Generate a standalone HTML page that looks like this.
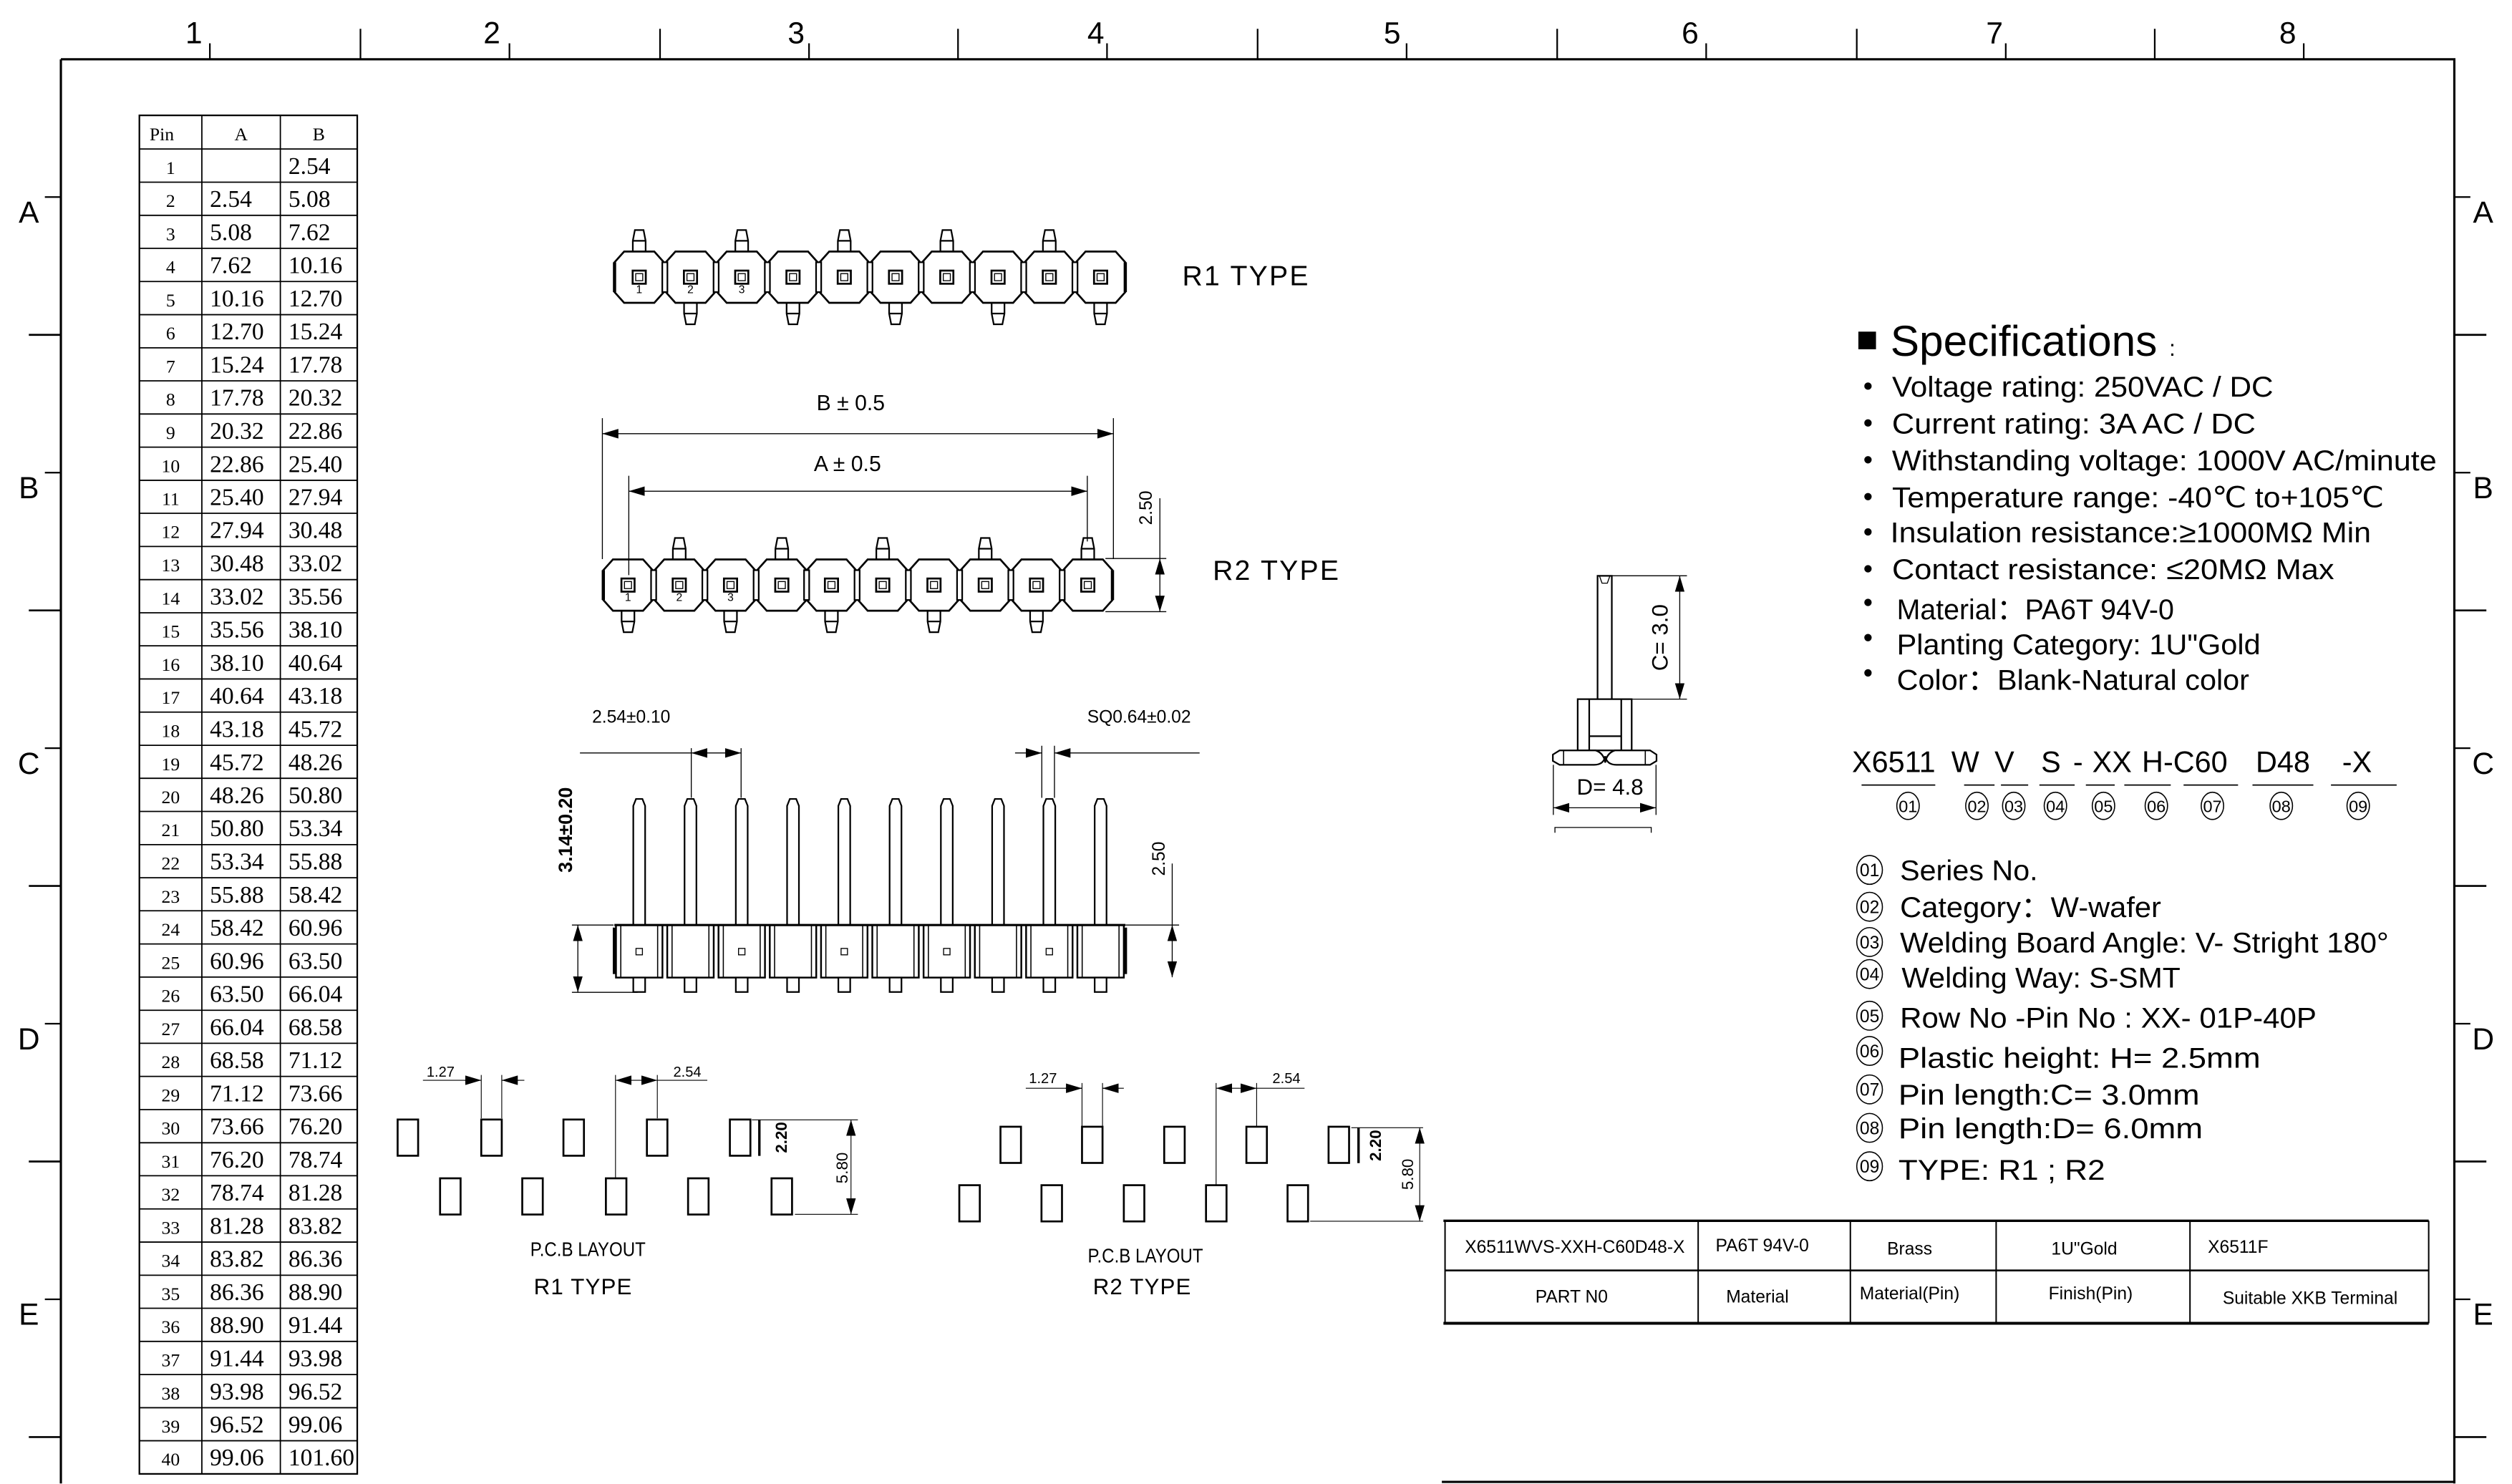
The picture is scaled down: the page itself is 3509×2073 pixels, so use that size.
<!DOCTYPE html>
<html><head><meta charset="utf-8"><style>
html,body{margin:0;padding:0;background:#fff;}
svg{display:block;}
text{font-family:"Liberation Sans",sans-serif;fill:#000;}
.sf{font-family:"Liberation Serif",serif;}
.tb text{font-family:"Liberation Serif",serif;font-size:15px;}
.tb .p{font-size:11.5px;text-anchor:middle;}
.ln{stroke:#000;fill:none;}
.m{text-anchor:middle;}
</style></head><body>
<svg width="3509" height="2073" viewBox="0 0 1568 926.3" xmlns="http://www.w3.org/2000/svg">
<defs>
<marker id="ar" viewBox="0 0 10 6" refX="10" refY="3" markerWidth="10" markerHeight="6" markerUnits="userSpaceOnUse" orient="auto-start-reverse"><path d="M0,0L10,3L0,6z" fill="#000"/></marker>
<g id="oct">
<path d="M-9.4,-16 H9.4 L15.4,-9.3 V9.3 L9.4,16 H-9.4 L-15.4,9.3 V-9.3 Z" fill="#fff" stroke="#000" stroke-width="1.2"/>
<rect x="-4.1" y="-4.1" width="8.2" height="8.2" fill="none" stroke="#000" stroke-width="1.2"/>
<rect x="-2.2" y="-2.2" width="4.4" height="4.4" fill="none" stroke="#000" stroke-width="0.6"/>
</g>
<path id="tu" d="M-4,-16 V-22.7 L-2.7,-29.4 H2.7 L4,-22.7 V-16 M-4,-22.7 H4" fill="#fff" stroke="#000" stroke-width="1"/>
<path id="td" d="M-4,16 V22.7 L-2.7,29.4 H2.7 L4,22.7 V16 M-4,22.7 H4" fill="#fff" stroke="#000" stroke-width="1"/>
<g id="lnk"><rect x="-1.6" y="-9.3" width="3.2" height="18.6" fill="#fff" stroke="#000" stroke-width="1"/></g>
<g id="sp">
<path d="M-3.7,577.4 V503 L-2,498.7 H2 L3.7,503 V577.4" fill="#fff" stroke="#000" stroke-width="1"/>
<rect x="-14.5" y="577.4" width="29" height="32.8" fill="#fff" stroke="#000" stroke-width="1.1"/>
<path d="M-11.5,577.4 V610.2 M11.5,577.4 V610.2" stroke="#000" stroke-width="0.7"/>
<rect x="-3.7" y="610.2" width="7.4" height="9" fill="#fff" stroke="#000" stroke-width="1"/>
</g>
<rect id="pad" x="0" y="0" width="12.8" height="22.6" fill="#fff" stroke="#000" stroke-width="1.2"/>
</defs>

<!-- Frame -->
<g stroke="#000" fill="none">
<path d="M38,37 H1532 V926 M38,37 V926" stroke-width="1.4"/>
<path d="M900,925 H1532" stroke-width="1.4"/>
<path d="M225,18 V37 M412,18 V37 M598,18 V37 M785,18 V37 M972,18 V37 M1159,18 V37 M1345,18 V37" stroke-width="1"/>
<path d="M131,27 V37 M318,27 V37 M505,27 V37 M691,27 V37 M878,27 V37 M1065,27 V37 M1252,27 V37 M1438,27 V37" stroke-width="1"/>
<path d="M18,209 H38 M18,381 H38 M18,553 H38 M18,725 H38 M18,897 H38 M1532,209 H1552 M1532,381 H1552 M1532,553 H1552 M1532,725 H1552 M1532,897 H1552" stroke-width="1.2"/>
<path d="M28,123 H38 M28,295 H38 M28,467 H38 M28,639 H38 M28,811 H38 M1532,123 H1542 M1532,295 H1542 M1532,467 H1542 M1532,639 H1542 M1532,811 H1542" stroke-width="1"/>
</g>
<g font-size="19">
<text x="121" y="27" class="m">1</text><text x="307" y="27" class="m">2</text><text x="497" y="27" class="m">3</text><text x="684" y="27" class="m">4</text><text x="869" y="27" class="m">5</text><text x="1055" y="27" class="m">6</text><text x="1245" y="27" class="m">7</text><text x="1428" y="27" class="m">8</text>
<text x="18" y="139" class="m">A</text><text x="18" y="311" class="m">B</text><text x="18" y="483" class="m">C</text><text x="18" y="655" class="m">D</text><text x="18" y="827" class="m">E</text>
<text x="1550" y="139" class="m">A</text><text x="1550" y="311" class="m">B</text><text x="1550" y="483" class="m">C</text><text x="1550" y="655" class="m">D</text><text x="1550" y="827" class="m">E</text>
</g>

<!-- Pin table -->
<g class="tb">
<rect x="87" y="72" width="136" height="848" fill="none" stroke="#000" stroke-width="1"/>
<path class="ln" stroke-width="0.8" d="M126,72 V920 M175,72 V920 M87,93 H223 M87,113.7 H223 M87,134.4 H223 M87,155 H223 M87,175.7 H223 M87,196.4 H223 M87,217.1 H223 M87,237.7 H223 M87,258.4 H223 M87,279.1 H223 M87,299.8 H223 M87,320.4 H223 M87,341.1 H223 M87,361.8 H223 M87,382.5 H223 M87,403.1 H223 M87,423.8 H223 M87,444.5 H223 M87,465.2 H223 M87,485.8 H223 M87,506.5 H223 M87,527.2 H223 M87,547.9 H223 M87,568.5 H223 M87,589.2 H223 M87,609.9 H223 M87,630.6 H223 M87,651.2 H223 M87,671.9 H223 M87,692.6 H223 M87,713.3 H223 M87,733.9 H223 M87,754.6 H223 M87,775.3 H223 M87,796 H223 M87,816.6 H223 M87,837.3 H223 M87,858 H223 M87,878.7 H223 M87,899.3 H223"/>
<text x="101" y="87.5" class="p">Pin</text><text x="150.5" y="87.5" class="p">A</text><text x="199" y="87.5" class="p">B</text>
<g transform="translate(0,108.5)"><text x="106.5" class="p">1</text><text x="180">2.54</text></g>
<g transform="translate(0,129.2)"><text x="106.5" class="p">2</text><text x="131">2.54</text><text x="180">5.08</text></g>
<g transform="translate(0,149.9)"><text x="106.5" class="p">3</text><text x="131">5.08</text><text x="180">7.62</text></g>
<g transform="translate(0,170.5)"><text x="106.5" class="p">4</text><text x="131">7.62</text><text x="180">10.16</text></g>
<g transform="translate(0,191.2)"><text x="106.5" class="p">5</text><text x="131">10.16</text><text x="180">12.70</text></g>
<g transform="translate(0,211.9)"><text x="106.5" class="p">6</text><text x="131">12.70</text><text x="180">15.24</text></g>
<g transform="translate(0,232.6)"><text x="106.5" class="p">7</text><text x="131">15.24</text><text x="180">17.78</text></g>
<g transform="translate(0,253.2)"><text x="106.5" class="p">8</text><text x="131">17.78</text><text x="180">20.32</text></g>
<g transform="translate(0,273.9)"><text x="106.5" class="p">9</text><text x="131">20.32</text><text x="180">22.86</text></g>
<g transform="translate(0,294.6)"><text x="106.5" class="p">10</text><text x="131">22.86</text><text x="180">25.40</text></g>
<g transform="translate(0,315.3)"><text x="106.5" class="p">11</text><text x="131">25.40</text><text x="180">27.94</text></g>
<g transform="translate(0,335.9)"><text x="106.5" class="p">12</text><text x="131">27.94</text><text x="180">30.48</text></g>
<g transform="translate(0,356.6)"><text x="106.5" class="p">13</text><text x="131">30.48</text><text x="180">33.02</text></g>
<g transform="translate(0,377.3)"><text x="106.5" class="p">14</text><text x="131">33.02</text><text x="180">35.56</text></g>
<g transform="translate(0,398)"><text x="106.5" class="p">15</text><text x="131">35.56</text><text x="180">38.10</text></g>
<g transform="translate(0,418.6)"><text x="106.5" class="p">16</text><text x="131">38.10</text><text x="180">40.64</text></g>
<g transform="translate(0,439.3)"><text x="106.5" class="p">17</text><text x="131">40.64</text><text x="180">43.18</text></g>
<g transform="translate(0,460)"><text x="106.5" class="p">18</text><text x="131">43.18</text><text x="180">45.72</text></g>
<g transform="translate(0,480.7)"><text x="106.5" class="p">19</text><text x="131">45.72</text><text x="180">48.26</text></g>
<g transform="translate(0,501.3)"><text x="106.5" class="p">20</text><text x="131">48.26</text><text x="180">50.80</text></g>
<g transform="translate(0,522)"><text x="106.5" class="p">21</text><text x="131">50.80</text><text x="180">53.34</text></g>
<g transform="translate(0,542.7)"><text x="106.5" class="p">22</text><text x="131">53.34</text><text x="180">55.88</text></g>
<g transform="translate(0,563.4)"><text x="106.5" class="p">23</text><text x="131">55.88</text><text x="180">58.42</text></g>
<g transform="translate(0,584)"><text x="106.5" class="p">24</text><text x="131">58.42</text><text x="180">60.96</text></g>
<g transform="translate(0,604.7)"><text x="106.5" class="p">25</text><text x="131">60.96</text><text x="180">63.50</text></g>
<g transform="translate(0,625.4)"><text x="106.5" class="p">26</text><text x="131">63.50</text><text x="180">66.04</text></g>
<g transform="translate(0,646.1)"><text x="106.5" class="p">27</text><text x="131">66.04</text><text x="180">68.58</text></g>
<g transform="translate(0,666.7)"><text x="106.5" class="p">28</text><text x="131">68.58</text><text x="180">71.12</text></g>
<g transform="translate(0,687.4)"><text x="106.5" class="p">29</text><text x="131">71.12</text><text x="180">73.66</text></g>
<g transform="translate(0,708.1)"><text x="106.5" class="p">30</text><text x="131">73.66</text><text x="180">76.20</text></g>
<g transform="translate(0,728.8)"><text x="106.5" class="p">31</text><text x="131">76.20</text><text x="180">78.74</text></g>
<g transform="translate(0,749.4)"><text x="106.5" class="p">32</text><text x="131">78.74</text><text x="180">81.28</text></g>
<g transform="translate(0,770.1)"><text x="106.5" class="p">33</text><text x="131">81.28</text><text x="180">83.82</text></g>
<g transform="translate(0,790.8)"><text x="106.5" class="p">34</text><text x="131">83.82</text><text x="180">86.36</text></g>
<g transform="translate(0,811.5)"><text x="106.5" class="p">35</text><text x="131">86.36</text><text x="180">88.90</text></g>
<g transform="translate(0,832.1)"><text x="106.5" class="p">36</text><text x="131">88.90</text><text x="180">91.44</text></g>
<g transform="translate(0,852.8)"><text x="106.5" class="p">37</text><text x="131">91.44</text><text x="180">93.98</text></g>
<g transform="translate(0,873.5)"><text x="106.5" class="p">38</text><text x="131">93.98</text><text x="180">96.52</text></g>
<g transform="translate(0,894.2)"><text x="106.5" class="p">39</text><text x="131">96.52</text><text x="180">99.06</text></g>
<g transform="translate(0,914.8)"><text x="106.5" class="p">40</text><text x="131">99.06</text><text x="180">101.60</text></g>
</g>

<!-- R1 top view -->
<g transform="translate(0,173)">
<use href="#tu" x="399"/><use href="#tu" x="463"/><use href="#tu" x="527"/><use href="#tu" x="591"/><use href="#tu" x="655"/>
<use href="#td" x="431"/><use href="#td" x="495"/><use href="#td" x="559"/><use href="#td" x="623"/><use href="#td" x="687"/>
<use href="#oct" x="399"/><use href="#oct" x="431"/><use href="#oct" x="463"/><use href="#oct" x="495"/><use href="#oct" x="527"/><use href="#oct" x="559"/><use href="#oct" x="591"/><use href="#oct" x="623"/><use href="#oct" x="655"/><use href="#oct" x="687"/>
<use href="#lnk" x="415"/><use href="#lnk" x="447"/><use href="#lnk" x="479"/><use href="#lnk" x="511"/><use href="#lnk" x="543"/><use href="#lnk" x="575"/><use href="#lnk" x="607"/><use href="#lnk" x="639"/><use href="#lnk" x="671"/>
<path d="M383.6,-9.3 V9.3 M702.4,-9.3 V9.3" stroke="#000" stroke-width="2"/>
<g font-size="7" class="m"><text x="399" y="10">1</text><text x="431" y="10">2</text><text x="463" y="10">3</text></g>
</g>
<text x="738" y="178" font-size="17.5" letter-spacing="1">R1  TYPE</text>

<!-- R2 top view -->
<g transform="translate(0,365.2)">
<use href="#tu" x="424"/><use href="#tu" x="488"/><use href="#tu" x="551"/><use href="#tu" x="615"/><use href="#tu" x="679"/>
<use href="#td" x="392"/><use href="#td" x="456"/><use href="#td" x="519"/><use href="#td" x="583"/><use href="#td" x="647"/>
<use href="#oct" x="392"/><use href="#oct" x="424"/><use href="#oct" x="456"/><use href="#oct" x="488"/><use href="#oct" x="519"/><use href="#oct" x="551"/><use href="#oct" x="583"/><use href="#oct" x="615"/><use href="#oct" x="647"/><use href="#oct" x="679"/>
<use href="#lnk" x="408"/><use href="#lnk" x="440"/><use href="#lnk" x="472"/><use href="#lnk" x="503.5"/><use href="#lnk" x="535"/><use href="#lnk" x="567"/><use href="#lnk" x="599"/><use href="#lnk" x="631"/><use href="#lnk" x="663"/>
<path d="M376.6,-9.3 V9.3 M694.4,-9.3 V9.3" stroke="#000" stroke-width="2"/>
<g font-size="7" class="m"><text x="392" y="10">1</text><text x="424" y="10">2</text><text x="456" y="10">3</text></g>
</g>
<text x="757" y="362" font-size="17.5" letter-spacing="1">R2  TYPE</text>
<g stroke="#000" stroke-width="0.6" fill="none">
<path d="M376,261 V349 M695,261 V349 M392.5,297 V359 M678.7,297 V338"/>
<path d="M376,270.7 H695" marker-start="url(#ar)" marker-end="url(#ar)"/>
<path d="M392.5,306.6 H678.7" marker-start="url(#ar)" marker-end="url(#ar)"/>
<path d="M690,348.6 H728 M690,381.8 H728 M724,311 V348.6"/>
<path d="M724,348.6 V381.8" marker-start="url(#ar)" marker-end="url(#ar)"/>
</g>
<text x="531" y="256" font-size="13.5" class="m">B ± 0.5</text>
<text x="529" y="294" font-size="13.5" class="m">A ± 0.5</text>
<text transform="translate(719,317) rotate(-90)" font-size="11" class="m">2.50</text>

<!-- Side view -->
<use href="#sp" x="399"/><use href="#sp" x="431"/><use href="#sp" x="463"/><use href="#sp" x="495"/><use href="#sp" x="527"/><use href="#sp" x="559"/><use href="#sp" x="591"/><use href="#sp" x="623"/><use href="#sp" x="655"/><use href="#sp" x="687"/>
<path d="M383.5,577.4 H702.5" stroke="#000" stroke-width="1.4"/>
<path d="M383.5,579 V608 M702.5,579 V608" stroke="#000" stroke-width="2"/>
<g fill="none" stroke="#000" stroke-width="0.6">
<rect x="397" y="592" width="4" height="4"/><rect x="461" y="592" width="4" height="4"/><rect x="525" y="592" width="4" height="4"/><rect x="589" y="592" width="4" height="4"/><rect x="653" y="592" width="4" height="4"/>
<path d="M357,577.4 H383 M357,619.4 H398"/>
<path d="M360.7,577.4 V619.4" marker-start="url(#ar)" marker-end="url(#ar)"/>
<path d="M702.6,577.4 H736 M731.7,539 V577.4"/>
<path d="M731.7,577.4 V610" marker-start="url(#ar)" marker-end="url(#ar)"/>
<path d="M431.5,467 V498 M462.6,467 V498 M362,470 H431.5"/>
<path d="M431.5,470 H462.6" marker-start="url(#ar)" marker-end="url(#ar)"/>
<path d="M650.3,465.5 V498 M658.2,465.5 V498"/>
<path d="M633.6,470 H650.3" marker-end="url(#ar)"/>
<path d="M748.8,470 H658.2" marker-end="url(#ar)"/>
</g>
<text transform="translate(357,518) rotate(-90)" font-size="12" font-weight="bold" class="m">3.14±0.20</text>
<text transform="translate(727,536) rotate(-90)" font-size="11" class="m">2.50</text>
<text x="394" y="451" font-size="11" class="m">2.54±0.10</text>
<text x="711" y="451" font-size="11" class="m">SQ0.64±0.02</text>

<!-- Single pin side -->
<g stroke="#000" fill="#fff" stroke-width="1">
<path d="M997.2,436.4 V359.4 H1006.1 V436.4"/>
<path d="M998.5,359.8 L1000,364 H1003.3 L1004.8,359.8" fill="none" stroke-width="0.6"/>
<rect x="984.8" y="436.4" width="33.7" height="32"/>
<path d="M992,436.4 V468.4 M1012,436.4 V468.4 M992,459.5 H1012" fill="none"/>
<path d="M984.8,468.4 H996 Q1001,470 1002,476 Q1003,470 1008,468.4 H1018.5 H1030 L1034,471 V475 L1030,477.4 H1009 Q1003,477.4 1002,472 Q1001,477.4 995,477.4 H973.5 L969.3,475 V471 L973.5,468.4 Z"/>
<path d="M976,468.4 V477.4 M1027,468.4 V477.4" fill="none" stroke-width="0.7"/>
</g>
<g stroke="#000" stroke-width="0.6" fill="none">
<path d="M1006,359.4 H1053 M1018.5,436.4 H1053"/>
<path d="M1048.5,359.4 V436.4" marker-start="url(#ar)" marker-end="url(#ar)"/>
<path d="M969.6,477.4 V508.7 M1033.7,477.4 V508.7"/>
<path d="M969.6,504.2 H1033.7" marker-start="url(#ar)" marker-end="url(#ar)"/>
<path d="M970.6,519.8 V516.5 H1030.7 V519.8"/>
</g>
<text transform="translate(1041,398) rotate(-90)" font-size="14" class="m">C= 3.0</text>
<text x="1005" y="496" font-size="14" class="m">D= 4.8</text>

<!-- Specifications -->
<rect x="1160" y="207" width="11" height="11" fill="#000"/>
<text x="1180" y="222" font-size="27">Specifications</text><text x="1354" y="222" font-size="14">:</text>
<g fill="#000"><circle cx="1166" cy="241" r="2.3"/><circle cx="1166" cy="264" r="2.3"/><circle cx="1166" cy="287" r="2.3"/><circle cx="1166" cy="310" r="2.3"/><circle cx="1166" cy="332" r="2.3"/><circle cx="1166" cy="355" r="2.3"/><circle cx="1166" cy="376" r="2.3"/><circle cx="1166" cy="398" r="2.3"/><circle cx="1166" cy="420" r="2.3"/></g>
<g font-size="18">
<text x="1181" y="247.5" textLength="238" lengthAdjust="spacingAndGlyphs">Voltage rating: 250VAC / DC</text>
<text x="1181" y="270.5" textLength="227" lengthAdjust="spacingAndGlyphs">Current rating: 3A  AC / DC</text>
<text x="1181" y="293.5" textLength="340" lengthAdjust="spacingAndGlyphs">Withstanding voltage: 1000V AC/minute</text>
<text x="1181" y="316.5" textLength="307" lengthAdjust="spacingAndGlyphs">Temperature range: -40℃ to+105℃</text>
<text x="1180" y="338.5" textLength="300" lengthAdjust="spacingAndGlyphs">Insulation resistance:≥1000MΩ Min</text>
<text x="1181" y="361.5" textLength="276" lengthAdjust="spacingAndGlyphs">Contact resistance: ≤20MΩ Max</text>
<text x="1184" y="386.5" textLength="173" lengthAdjust="spacingAndGlyphs">Material：PA6T 94V-0</text>
<text x="1184" y="408.5" textLength="227" lengthAdjust="spacingAndGlyphs">Planting Category: 1U"Gold</text>
<text x="1184" y="430.5" textLength="220" lengthAdjust="spacingAndGlyphs">Color：Blank-Natural color</text>
</g>

<!-- Part code -->
<g font-size="18.5">
<text x="1156" y="482">X6511</text><text x="1218" y="482">W</text><text x="1245" y="482">V</text><text x="1274" y="482">S</text><text x="1294" y="482">-</text><text x="1306" y="482">XX</text><text x="1337" y="482">H-C60</text><text x="1408" y="482">D48</text><text x="1462" y="482">-X</text>
</g>
<path d="M1162,490 H1208 M1226,490 H1245 M1249,490 H1266 M1273,490 H1295 M1302,490 H1320 M1326,490 H1355 M1363,490 H1397 M1406,490 H1444 M1455,490 H1496" stroke="#000" stroke-width="0.8"/>
<g fill="none" stroke="#000" stroke-width="0.7">
<ellipse cx="1191" cy="503" rx="7" ry="8.5"/><ellipse cx="1234" cy="503" rx="7" ry="8.5"/><ellipse cx="1257" cy="503" rx="7" ry="8.5"/><ellipse cx="1283" cy="503" rx="7" ry="8.5"/><ellipse cx="1313" cy="503" rx="7" ry="8.5"/><ellipse cx="1346" cy="503" rx="7" ry="8.5"/><ellipse cx="1381" cy="503" rx="7" ry="8.5"/><ellipse cx="1424" cy="503" rx="7" ry="8.5"/><ellipse cx="1472" cy="503" rx="7" ry="8.5"/>
</g>
<g font-size="10.5" class="m">
<text x="1191" y="507">01</text><text x="1234" y="507">02</text><text x="1257" y="507">03</text><text x="1283" y="507">04</text><text x="1313" y="507">05</text><text x="1346" y="507">06</text><text x="1381" y="507">07</text><text x="1424" y="507">08</text><text x="1472" y="507">09</text>
</g>

<!-- Legend list -->
<g fill="none" stroke="#000" stroke-width="0.7">
<ellipse cx="1167" cy="543" rx="8" ry="9"/><ellipse cx="1167" cy="566" rx="8" ry="9"/><ellipse cx="1167" cy="588" rx="8" ry="9"/><ellipse cx="1167" cy="608" rx="8" ry="9"/><ellipse cx="1167" cy="634" rx="8" ry="9"/><ellipse cx="1167" cy="656" rx="8" ry="9"/><ellipse cx="1167" cy="680" rx="8" ry="9"/><ellipse cx="1167" cy="704" rx="8" ry="9"/><ellipse cx="1167" cy="728" rx="8" ry="9"/>
</g>
<g font-size="11" class="m">
<text x="1167" y="547">01</text><text x="1167" y="570">02</text><text x="1167" y="592">03</text><text x="1167" y="612">04</text><text x="1167" y="638">05</text><text x="1167" y="660">06</text><text x="1167" y="684">07</text><text x="1167" y="708">08</text><text x="1167" y="732">09</text>
</g>
<g font-size="18">
<text x="1186" y="549.5" textLength="86" lengthAdjust="spacingAndGlyphs">Series No.</text>
<text x="1186" y="572.5" textLength="163" lengthAdjust="spacingAndGlyphs">Category：W-wafer</text>
<text x="1186" y="594.5" textLength="305" lengthAdjust="spacingAndGlyphs">Welding Board Angle: V- Stright 180°</text>
<text x="1187" y="616.5" textLength="174" lengthAdjust="spacingAndGlyphs">Welding Way:   S-SMT</text>
<text x="1186" y="641.5" textLength="260" lengthAdjust="spacingAndGlyphs">Row No -Pin No : XX- 01P-40P</text>
<text x="1185" y="666.5" textLength="226" lengthAdjust="spacingAndGlyphs">Plastic height: H= 2.5mm</text>
<text x="1185" y="689.5" textLength="188" lengthAdjust="spacingAndGlyphs">Pin length:C= 3.0mm</text>
<text x="1185" y="710.5" textLength="190" lengthAdjust="spacingAndGlyphs">Pin length:D= 6.0mm</text>
<text x="1185" y="736.5" textLength="129" lengthAdjust="spacingAndGlyphs">TYPE:  R1 ;  R2</text>
</g>

<!-- PCB layout R1 -->
<g>
<use href="#pad" x="248.2" y="698.8"/><use href="#pad" x="300.4" y="698.8"/><use href="#pad" x="351.7" y="698.8"/><use href="#pad" x="403.8" y="698.8"/><use href="#pad" x="455.6" y="698.8"/>
<use href="#pad" x="274.7" y="735.5"/><use href="#pad" x="326" y="735.5"/><use href="#pad" x="378.2" y="735.5"/><use href="#pad" x="429.5" y="735.5"/><use href="#pad" x="481.6" y="735.5"/>
</g>
<g stroke="#000" stroke-width="0.5" fill="none">
<path d="M300.4,671 V698 M313.2,671 V698 M264,674.3 H300.4 M313.2,674.3 H327.3"/>
<path d="M290,674.3 H300.4" marker-end="url(#ar)"/><path d="M324,674.3 H313.2" marker-end="url(#ar)"/>
<path d="M384.2,671 V735 M410.3,671 V698 M410.3,674.3 H441.5"/>
<path d="M384.2,674.3 H410.3" marker-start="url(#ar)" marker-end="url(#ar)"/>
<path d="M469.3,699 H535.5 M496.2,758 H535.5"/>
<path d="M531.2,699 V758" marker-start="url(#ar)" marker-end="url(#ar)"/>
<path d="M474,699 V721.5" stroke-width="1.5"/>
</g>
<text x="275" y="672" font-size="9" class="m">1.27</text>
<text x="429" y="672" font-size="9" class="m">2.54</text>
<text transform="translate(491,710) rotate(-90)" font-size="10" font-weight="bold" class="m">2.20</text>
<text transform="translate(529,729) rotate(-90)" font-size="10" class="m">5.80</text>
<text x="367" y="784" font-size="12.5" class="m" textLength="72" lengthAdjust="spacingAndGlyphs">P.C.B LAYOUT</text>
<text x="364" y="808" font-size="14" class="m" letter-spacing="0.5">R1  TYPE</text>

<!-- PCB layout R2 -->
<g>
<use href="#pad" x="624.5" y="703.3"/><use href="#pad" x="675.4" y="703.3"/><use href="#pad" x="726.7" y="703.3"/><use href="#pad" x="778" y="703.3"/><use href="#pad" x="829.3" y="703.3"/>
<use href="#pad" x="598.8" y="739.8"/><use href="#pad" x="650.1" y="739.8"/><use href="#pad" x="701.5" y="739.8"/><use href="#pad" x="752.8" y="739.8"/><use href="#pad" x="803.7" y="739.8"/>
</g>
<g stroke="#000" stroke-width="0.5" fill="none">
<path d="M675.4,676 V703 M688.2,676 V703 M640.3,679.3 H675.4 M688.2,679.3 H701.5"/>
<path d="M665,679.3 H675.4" marker-end="url(#ar)"/><path d="M698,679.3 H688.2" marker-end="url(#ar)"/>
<path d="M759.1,676 V739.8 M784.4,676 V703 M784.4,679.3 H814.3"/>
<path d="M759.1,679.3 H784.4" marker-start="url(#ar)" marker-end="url(#ar)"/>
<path d="M843.5,703.9 H888.3 M817.8,762.3 H888.3"/>
<path d="M886.2,703.9 V762.3" marker-start="url(#ar)" marker-end="url(#ar)"/>
<path d="M848,704 V726" stroke-width="1.5"/>
</g>
<text x="651" y="676" font-size="9" class="m">1.27</text>
<text x="803" y="676" font-size="9" class="m">2.54</text>
<text transform="translate(862,715) rotate(-90)" font-size="10" font-weight="bold" class="m">2.20</text>
<text transform="translate(882,733) rotate(-90)" font-size="10" class="m">5.80</text>
<text x="715" y="788" font-size="12.5" class="m" textLength="72" lengthAdjust="spacingAndGlyphs">P.C.B LAYOUT</text>
<text x="713" y="808" font-size="14" class="m" letter-spacing="0.5">R2  TYPE</text>

<!-- Title block -->
<g stroke="#000" fill="none">
<path d="M901,762 H1516" stroke-width="1.5"/>
<path d="M901,826 H1516" stroke-width="1.8"/>
<path d="M902,793 H1516" stroke-width="1.2"/>
<path d="M902,762 V826 M1060,762 V826 M1155,762 V826 M1246,762 V826 M1367,762 V826 M1516,762 V826" stroke-width="0.9"/>
</g>
<g font-size="11" class="m">
<text x="983" y="782">X6511WVS-XXH-C60D48-X</text>
<text x="1100" y="781">PA6T 94V-0</text>
<text x="1192" y="783">Brass</text>
<text x="1301" y="783">1U"Gold</text>
<text x="1397" y="782">X6511F</text>
<text x="981" y="813">PART N0</text>
<text x="1097" y="813">Material</text>
<text x="1192" y="811">Material(Pin)</text>
<text x="1305" y="811">Finish(Pin)</text>
<text x="1442" y="814">Suitable XKB Terminal</text>
</g>
</svg>
</body></html>
